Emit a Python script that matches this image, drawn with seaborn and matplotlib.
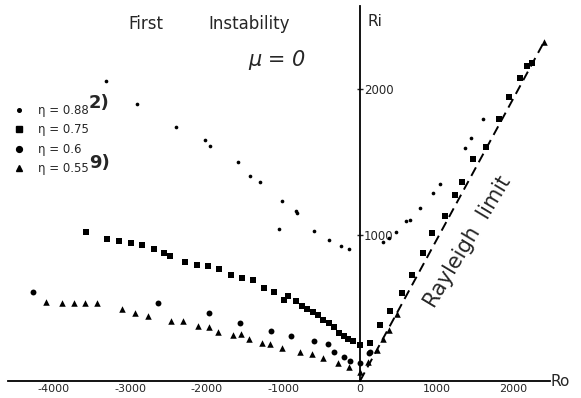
import numpy as np
import pandas as pd
import matplotlib
matplotlib.use("Agg")
import matplotlib.pyplot as plt
from matplotlib.lines import Line2D
import seaborn as sns

# ---------------- data ----------------
ro_088 = [-3320, -2915, -2405, -2026, -1961, -1595, -1438, -1307, -1020, -1059, -837, -824,
          -601, -405, -248, -144,
          301, 379, 471, 601, 654, 784, 954, 1046, 1373, 1451, 1608]
ri_088 = [2055, 1897, 1740, 1651, 1610, 1500, 1404, 1363, 1233, 1041, 1164, 1151,
          1027, 966, 925, 904,
          952, 979, 1021, 1096, 1103, 1185, 1288, 1349, 1596, 1664, 1795]

ro_075 = [-3582, -3307, -3150, -2993, -2850, -2693, -2562, -2484, -2288, -2131, -1987, -1843,
          -1686, -1542, -1399, -1255, -1124, -993, -941, -837, -758, -693, -614, -549, -484,
          -405, -340, -275, -209, -157, -92, 0,
          131, 261, 392, 549, 680, 824, 941, 1111, 1242, 1333, 1477, 1647, 1817, 1948,
          2092, 2183, 2248]
ri_075 = [1021, 973, 959, 945, 932, 904, 877, 856, 815, 795, 788, 767,
          726, 705, 692, 637, 610, 555, 582, 548, 514, 493, 473, 452, 418,
          397, 370, 329, 308, 288, 274, 247,
          260, 384, 479, 603, 726, 877, 1014, 1130, 1274, 1363, 1521, 1603, 1795, 1945,
          2075, 2158, 2178]

ro_06 = [-4275, -2641, -1974, -1569, -1163, -902, -601, -418, -340, -209, -131, 0, 118, 131]
ri_06 = [610, 534, 466, 397, 342, 308, 274, 253, 199, 164, 137, 123, 192, 199]

ro_055 = [-4105, -3895, -3739, -3595, -3438, -3111, -2941, -2771, -2471, -2314, -2118, -1974,
          -1856, -1660, -1556, -1451, -1281, -1176, -1020, -784, -627, -484, -288, -144, 0,
          105, 222, 301, 379, 484, 2405]
ri_055 = [541, 534, 534, 534, 534, 493, 466, 445, 411, 411, 377, 370,
          336, 315, 322, 288, 260, 253, 226, 199, 185, 158, 123, 96, 62,
          130, 212, 288, 349, 459, 2322]

rayleigh_ro = [0, 2405]
rayleigh_ri = [0, 2322]

eta_labels = ["η = 0.88", "η = 0.75", "η = 0.6", "η = 0.55"]
x_ticks = [-4000, -3000, -2000, -1000, 0, 1000, 2000]
y_ticks = [1000, 2000]

# ---------------- figure ----------------
sns.set_style("white")
plt.rcParams["font.family"] = ["DejaVu Sans"]

W, H = 581, 398
fig = plt.figure(figsize=(W / 100, H / 100), dpi=100)
ax = fig.add_axes([0, 0, 1, 1])

# pixel mapping: x = 360 + 0.0765*Ro ; y = 381 - 0.146*Ri
ax.set_xlim(-360 / 0.0765, (W - 360) / 0.0765)
ax.set_ylim(-(H - 381) / 0.146, 381 / 0.146)

series = [
    (ro_088, ri_088, "o", 7),
    (ro_075, ri_075, "s", 16),
    (ro_06, ri_06, "o", 18),
    (ro_055, ri_055, "^", 22),
]
for (xs, ys, m, s), lab in zip(series, eta_labels):
    df = pd.DataFrame({"Ro": xs, "Ri": ys})
    sns.scatterplot(data=df, x="Ro", y="Ri", marker=m, s=s, color="black",
                    edgecolor="black", linewidth=0, ax=ax, legend=False)

rl = pd.DataFrame({"Ro": rayleigh_ro, "Ri": rayleigh_ri})
sns.lineplot(data=rl, x="Ro", y="Ri", color="black", lw=1.4, ax=ax,
             dashes=False, linestyle=(0, (5, 3)))

# axes through origin
for side in ["left", "top"]:
    ax.spines[side].set_visible(False)
ax.spines["bottom"].set_position(("data", 0))
ax.spines["right"].set_position(("data", 0))
ax.spines["bottom"].set_bounds(-4600, 2480)
ax.spines["right"].set_bounds(0, 2570)
for side in ["bottom", "right"]:
    ax.spines[side].set_linewidth(1.3)
    ax.spines[side].set_color("black")

ax.yaxis.tick_right()
ax.set_xticks(x_ticks)
ax.set_xticklabels([str(v) for v in x_ticks])
ax.set_yticks(y_ticks)
ax.set_yticklabels([str(v) for v in y_ticks])
ax.tick_params(axis="x", direction="inout", length=3, width=1, pad=0.5, labelsize=8)
ax.tick_params(axis="y", direction="inout", length=4, width=1, pad=1, labelsize=8.5)
ax.set_xlabel("")
ax.set_ylabel("")

def fx(px):
    return px / W

def fy(py):
    return 1 - py / H

fig.text(fx(560), fy(382), "Ro", fontsize=11, ha="center", va="center")
fig.text(fx(375), fy(21), "Ri", fontsize=11, ha="center", va="center")
fig.text(fx(146), fy(24), "First", fontsize=12, ha="center", va="center")
fig.text(fx(249), fy(24), "Instability", fontsize=12, ha="center", va="center")
fig.text(fx(277), fy(60), "μ = 0", fontsize=15, ha="center", va="center", style="italic")
fig.text(fx(99), fy(103), "2)", fontsize=13, ha="center", va="center", fontweight="bold")
fig.text(fx(99), fy(163), "9)", fontsize=13, ha="center", va="center", fontweight="bold")
fig.text(fx(468), fy(242), "Rayleigh  limit", fontsize=15, ha="center", va="center",
         rotation=59, rotation_mode="anchor")

handles = [
    Line2D([], [], linestyle="none", marker="o", markersize=2.6, color="black"),
    Line2D([], [], linestyle="none", marker="s", markersize=4.2, color="black"),
    Line2D([], [], linestyle="none", marker="o", markersize=4.2, color="black"),
    Line2D([], [], linestyle="none", marker="^", markersize=5.0, color="black"),
]
ax.legend(handles, eta_labels, loc="upper left", bbox_to_anchor=(fx(13), fy(104)),
          bbox_transform=fig.transFigure, frameon=False, fontsize=8.5,
          handlelength=1.0, handletextpad=1.1, labelspacing=0.55, borderpad=0,
          borderaxespad=0)

fig.savefig("out.png", dpi=100, facecolor="white")
